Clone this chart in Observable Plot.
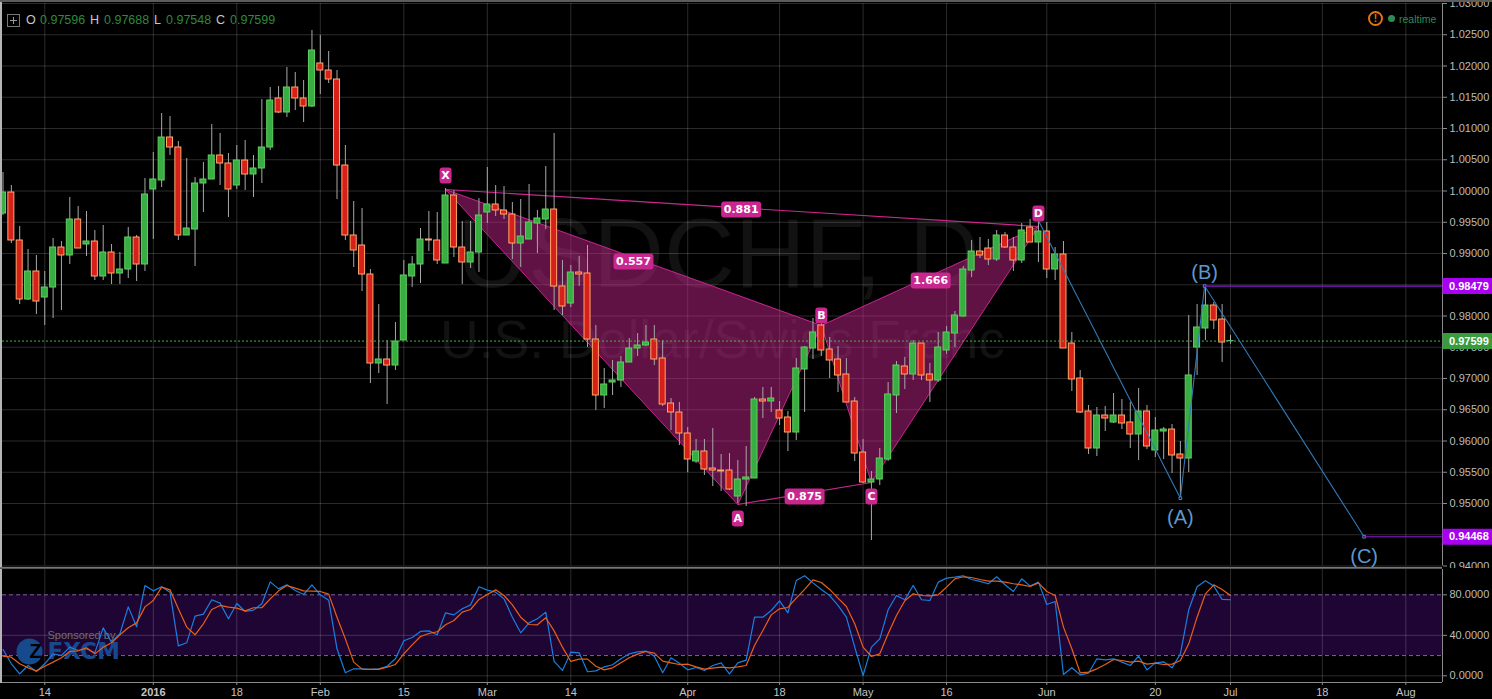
<!DOCTYPE html>
<html><head><meta charset="utf-8">
<script src="https://cdn.jsdelivr.net/npm/d3@7"></script>
<script src="https://cdn.jsdelivr.net/npm/@observablehq/plot@0.6"></script>
<style>
html,body{margin:0;padding:0;background:#000;overflow:hidden}
#wrap{position:relative;width:1492px;height:699px;background:#000}
#wrap svg.plot{display:block}
#wrap>div.plotbox svg{display:block}
.hdr{position:absolute;top:12.5px;font:12.5px/15px "Liberation Sans",Arial,sans-serif;white-space:nowrap}
.k{color:#c8c8c8}.v{color:#2c8a3c}
#edgeL{position:absolute;left:0;top:0;width:1.5px;height:683px;background:#b5b5b5}
#edgeT{position:absolute;left:0;top:0;width:1492px;height:1.5px;background:#5c5c5c}
#edgeS{position:absolute;left:0;top:567px;width:1442px;height:2px;border-top:1px solid #777;border-bottom:1px solid #555;box-sizing:border-box}
#warn{position:absolute;left:1368px;top:11px;width:11px;height:11px;border:2px solid #e8730c;border-radius:50%;color:#e8730c;font:bold 10px/11px "Liberation Sans";text-align:center}
#live{position:absolute;left:1387.5px;top:15px;width:7px;height:7px;border-radius:50%;background:#2e8b57}
#rt{position:absolute;left:1399px;top:11.5px;color:#2e8b57;font:10.5px/14px "Liberation Sans"}
</style></head><body>
<div id="wrap"></div>
<script>
// Daily USD/CHF candles, Dec 2015 - Jul 2016
const opens=[.9964,.99976,.99208,.98264,.98712,.98296,.98456,.99096,.98968,.99544,.99144,.99192,.98632,.99016,.9868,.98744,.99256,.98824,1.00024,1.00168,1.00856,1.00696,.99288,.99384,1.0012,1.00184,1.00568,1.0044,1.00088,1.00488,1.00264,1.0036,1.00696,1.0148,1.01256,1.01656,1.0148,1.01352,1.0204,1.01928,1.01784,1.00408,.99288,.99128,.98664,.9724,.97304,.97208,.97608,.98632,.98824,.99224,.99208,.9884,.99928,.99096,.98856,.99016,.99656,.99784,.99688,.99624,.9916,.99224,.9948,.99544,.99704,.98472,.982,.98696,.9868,.97624,.96728,.96936,.96968,.97256,.9748,.97528,.97624,.9732,.966,.96456,.9612,.95672,.95832,.9556,.95528,.95528,.95112,.95384,.954,.96664,.96632,.96488,.96376,.96136,.97144,.9748,.97848,.97464,.97304,.97064,.96632,.95816,.95336,.95384,.95704,.96728,.97192,.97064,.9756,.97064,.96968,.97448,.9772,.97992,.98728,.99032,.9908,.98904,.99288,.99096,.98888,.99416,.99176,.99352,.98744,.98984,.9756,.97,.96472,.9588,.96408,.96296,.96408,.96296,.96104,.96472,.95848,.96152,.96184,.95784,.9572,.97496,.978,.98168,.97944,.97596];
const closes=[.99976,.99208,.98264,.98712,.98232,.98456,.99096,.98968,.99544,.9908,.99192,.98632,.99016,.9868,.98744,.99256,.98824,.99944,1.00184,1.00856,1.00696,.99288,.994,1.0012,1.00184,1.00568,1.0044,1.00024,1.00488,1.00264,1.0036,1.00696,1.01448,1.01256,1.01656,1.0148,1.01352,1.02248,1.01928,1.01784,1.00408,.99288,.99048,.98664,.9724,.97304,.97208,.97592,.98648,.98824,.99224,.99208,.98888,.99928,.99096,.98856,.99016,.99608,.99784,.99688,.99624,.9916,.99272,.99496,.9956,.99704,.98472,.98152,.98696,.98664,.97624,.96728,.96904,.96968,.97256,.9748,.97528,.97576,.97304,.96584,.96456,.9612,.95704,.95832,.95544,.95528,.95512,.95224,.95384,.95416,.96664,.96632,.9668,.9636,.96136,.9716,.97496,.97736,.97448,.97288,.97048,.96616,.958,.95336,.95384,.9572,.96744,.97208,.97064,.9756,.97048,.96968,.97496,.97736,.98008,.98744,.99032,.98968,.98904,.99288,.99096,.98888,.99368,.99176,.99352,.98744,.98984,.9748,.96984,.96456,.9588,.96408,.9636,.96408,.9628,.96104,.96472,.95912,.96168,.96184,.95768,.9572,.97048,.97816,.98168,.97928,.97576,.97599];
const highs=[1.00296,1.00088,.99432,.99064,.98968,.98712,.9924,.99192,.99896,.99752,.99672,.99368,.99448,.99144,.99016,.99416,.99288,1.002,1.00616,1.0124,1.01192,1.00792,1.0052,1.00216,1.00456,1.01064,1.0092,1.006,1.00728,1.00808,1.00568,1.01464,1.01656,1.01672,1.01976,1.01896,1.01768,1.02568,1.02488,1.02232,1.01928,1.00728,.99832,.9972,.98744,.98184,.97608,.97896,.98888,.98952,.994,.99672,.99656,1.0004,1.00008,.99512,.99512,.9988,1.00376,1.00088,1.00072,.99816,.99864,1.00104,.99688,1.00392,1.0092,.98888,.98808,.98952,.99128,.97848,.9716,.97288,.97352,.9764,.9772,.97848,.97848,.97608,.9668,.96616,.96216,.96024,.96024,.962,.95784,.958,.95688,.95912,.96696,.96856,.96856,.96632,.96472,.9732,.97512,.9796,.9788,.97656,.97512,.9732,.96696,.96024,.95512,.9588,.96936,.97272,.97336,.97608,.9756,.9724,.97736,.97832,.98072,.98792,.99208,.99256,.99224,.99368,.99336,.99256,.9948,.99544,.99544,.99496,.99096,.99192,.97736,.97128,.96568,.96536,.96552,.9676,.96664,.96616,.9684,.96568,.96376,.96216,.96264,.95992,.98008,.98184,.9844,.98216,.98184,.97688];
const lows=[.99608,.9916,.98184,.98248,.98024,.97848,.9796,.98088,.98824,.9908,.98952,.98568,.98568,.98504,.98504,.986,.98552,.98712,.99224,1.00056,1.00568,.99208,.99288,.98792,.99656,1.00184,1.00088,.99576,1.00024,1.00008,.99896,1.0012,1.00648,1.0124,1.01176,1.01288,1.01096,1.01336,1.01544,1.0172,.99864,.99208,.98776,.98392,.9692,.9708,.96584,.97128,.97608,.98456,.9852,.99032,.98824,.9884,.98936,.98504,.9876,.98696,.9948,.99592,.99544,.98904,.98776,.99224,.99,.99384,.98088,.98008,.98136,.98472,.97496,.96488,.9652,.96728,.96856,.97256,.97352,.97512,.97208,.96552,.96168,.95928,.95496,.9564,.95448,.95272,.95192,.95208,.95,.94952,.954,.9636,.96456,.96248,.95832,.96008,.96456,.97304,.97352,.97,.96776,.96616,.95672,.9532,.94408,.95288,.95672,.9644,.96824,.96968,.96968,.96616,.96936,.97384,.97496,.97976,.98616,.9892,.98808,.98872,.9908,.98712,.9884,.99176,.98856,.986,.98568,.9748,.96792,.9644,.95784,.95752,.96152,.9628,.96184,.9588,.95688,.95864,.95736,.95704,.9548,.9508,.95496,.97048,.97608,.97784,.97256,.97548];
const stochK=[26,11.9,2,10.2,4.3,11.9,21.7,20.1,28.3,25,26.7,22.7,47.4,33.2,41.5,68.1,48.4,89.2,83.9,87.9,82.6,29.6,32.6,58.9,60.9,75.1,71.8,56.3,71.4,63.5,64.9,71.1,92.8,85.9,89.9,84.3,80.3,89.9,80,74.7,26.7,3,6.9,6.9,6.3,6.9,9.5,16.8,34.6,37.9,43.8,44.4,40.5,62.2,60.2,66.2,70.1,87.9,84.6,82.6,76,57.9,42.5,52.3,56.3,62.9,14.2,5.3,23.4,22.7,4,4.9,8.9,10.9,16.8,21.7,23.7,24.4,19.4,3,17.8,12.5,5.9,8.2,5.3,10.2,12.8,2,12.8,15.5,57.9,57.9,64.5,74.1,62.2,94.2,98.8,91.8,85.3,79.3,69.5,57.9,28.3,.3,28.3,36.5,65.2,79.3,75.1,89.2,75.1,74.4,92.5,96.5,97.4,98.8,95.1,93.2,90.9,97.8,89.9,83.3,95.8,88.6,92.5,70.4,73.4,1.3,7.9,1,2.6,16.8,15.8,16.8,13.5,10.2,19.4,5.9,12.8,13.8,7.9,21.7,65.2,87.9,93.8,88.6,75.4,75.1];
const stochD=[19.4,18.4,11.9,7.9,4.9,9.5,13.5,17.8,24,24.7,27.7,21.7,28.3,32.6,40.5,47.4,52.3,68.1,74.4,87.6,84.9,66.2,48.1,40.5,51.4,65.5,69.5,67.8,66.8,64.2,67.2,67.2,76,83.9,89.2,86.6,83.9,83.6,83.3,80.7,57.9,36.5,13.5,6.6,6.3,6.3,8.6,11.2,21.7,30.6,38.8,41.8,43.5,50.4,54.6,62.9,65.5,75.4,80.3,84.9,79.3,70.1,57.9,50.7,50.4,57.3,44.4,28.3,14.2,16.5,16.5,9.5,5.9,7.9,12.8,17.8,21.4,24,22.4,14.5,12.8,11.2,11.5,8.9,6.6,7.6,8.6,7.9,8.9,10.2,30,44.8,60.2,66.2,67.5,76.7,85.3,94.8,92.2,85.3,76.7,68.5,51.4,28.3,19.1,21.7,41.5,59.6,74.1,81,79.3,79,80,87.6,95.8,97.8,97.1,95.1,93.5,93.5,92.5,90.9,89.9,88.2,91.8,83.3,79.3,48.1,26.7,3,3.6,6.9,11.2,16.1,15.1,13.5,14.5,11.5,12.5,11.2,11.5,15.1,31.6,57.9,81,89.9,85.3,79.3];

// Axis ticks
const priceTicks=[.94,.945,.95,.955,.96,.965,.97,.975,.98,.985,.99,.995,1,1.005,1.01,1.015,1.02,1.025,1.03];
const stochTicks=[0,40,80];
const stochGrid=[0,40];
const stochBands=[20,80];
const dateTicks=[5,18,28,38,48,58,68,82,93,103,113,125,138,147,158,168];
const dateLabels=["14","2016","18","Feb","15","Mar","14","Apr","18","May","16","Jun","20","Jul","18","Aug"];

// Bat pattern points X A B C D and its ratios
const batNames=["X","A","B","C","D"];
const batIndex=[53,88,98,104,124];
const batPrice=[1.00024,.94984,.97848,.95336,.99432];
const ratioText=["0.881","0.557","1.666","0.875"];
const ratioIndex=[88.4,75.5,111.1,96];
const ratioPrice=[.99704,.98872,.98568,.95112];

// ABC projection
const waveNames=["(A)","(B)","(C)"];
const waveIndex=[124,141,143.9,163];
const wavePrice=[.99528,.95085,.98479,.94468];
const levelPrices=[.98479,.94468];
const lastPrice=.97599;

const FONT='"Liberation Sans",Arial,sans-serif';
const xDomain=[-.06,172.39];
const idx=d3.range(opens.length);
const bat=batNames.map((n,i)=>({n,x:batIndex[i],y:batPrice[i]}));
const [X,A,B,C,D]=bat;
const ratios=ratioText.map((t,i)=>({t,x:ratioIndex[i],y:ratioPrice[i]}));
const wave=waveIndex.map((x,i)=>({x,y:wavePrice[i]}));
const GRID={stroke:"#fff",strokeOpacity:.17,strokeWidth:1};
const PINK="#c9268f";

function box(w,h,r){return {draw(c){const a=w/2,b=h/2;
  c.moveTo(-a+r,-b);c.lineTo(a-r,-b);c.arcTo(a,-b,a,-b+r,r);c.lineTo(a,b-r);c.arcTo(a,b,a-r,b,r);
  c.lineTo(-a+r,b);c.arcTo(-a,b,-a,b-r,r);c.lineTo(-a,-b+r);c.arcTo(-a,-b,-a+r,-b,r);c.closePath();}};}

const tagOf=(y,t,fill)=>[
  Plot.dot([y],{y:d=>d,frameAnchor:"right",dx:25,symbol:box(50,16,0),fill,stroke:"none"}),
  Plot.text([y],{y:d=>d,frameAnchor:"right",dx:6.5,text:()=>t,textAnchor:"start",fill:"#fff",fontWeight:"bold",fontSize:11,fontFamily:FONT})
];
const tri=(pts)=>Plot.line(pts,{x:"x",y:"y",fill:PINK,fillOpacity:.47,stroke:"none",curve:"linear-closed"});

const main=Plot.plot({
  width:1492,height:568,marginLeft:2,marginRight:50,marginTop:3,marginBottom:2.5,
  style:{background:"transparent",fontFamily:FONT},
  x:{domain:xDomain,axis:null},y:{domain:[.94,1.03]},
  marks:[
    Plot.text(["USDCHF, D"],{frameAnchor:"top",dy:214,fontSize:98,fontFamily:FONT,fill:"#121212",lineAnchor:"top",dx:-4}),
    Plot.text(["U.S. Dollar/Swiss Franc"],{frameAnchor:"top",dy:316,fontSize:53.5,fontFamily:FONT,fill:"#121212",lineAnchor:"top"}),
    Plot.ruleX(dateTicks,{x:d=>d,...GRID}),
    Plot.ruleY(priceTicks,{y:d=>d,...GRID}),
    tri([X,A,B]),tri([B,C,D]),
    Plot.line([X,A,B,C,D,B],{x:"x",y:"y",stroke:PINK,strokeWidth:1}),
    Plot.line([X,B],{x:"x",y:"y",stroke:PINK,strokeWidth:1}),
    Plot.line([X,D],{x:"x",y:"y",stroke:PINK,strokeWidth:1.2}),
    Plot.line([A,C],{x:"x",y:"y",stroke:PINK,strokeWidth:1.2}),
    Plot.ruleX(idx,{x:i=>i,y1:i=>lows[i],y2:i=>highs[i],stroke:"#a8a8a8",strokeWidth:1}),
    Plot.rect(idx,{x1:i=>i-.36,x2:i=>i+.36,y1:i=>opens[i],y2:i=>closes[i],
      fill:i=>closes[i]>=opens[i]?"#38ad42":"#d8201a",
      stroke:i=>closes[i]>=opens[i]?"#5fd060":"#ffa86a",strokeWidth:1}),
    Plot.ruleY([lastPrice],{y:d=>d,stroke:"#4caf50",strokeDasharray:"2,2",strokeWidth:1}),
    Plot.line(wave,{x:"x",y:"y",stroke:"#3278b4",strokeWidth:1.1}),
    Plot.dot(wave.slice(1),{x:"x",y:"y",symbol:"square",r:1.5,stroke:"#3f8fd0",fill:"#000",strokeWidth:1}),
    Plot.ruleY(levelPrices,{y:d=>d,x1:(d,i)=>waveIndex[i+2],x2:xDomain[1],stroke:"#8a18d0",strokeWidth:1.2}),
    Plot.ruleX([xDomain[1]],{x:d=>d,stroke:"#8a8a8a"}),
    Plot.axisY(priceTicks,{anchor:"right",label:null,tickFormat:d3.format(".5f"),tickSize:4,tickPadding:3,stroke:"#8a8a8a",fill:"#bcbcbc",fontSize:11,fontFamily:FONT}),
    Plot.dot(ratios,{x:"x",y:"y",symbol:box(40,16,3),fill:PINK,stroke:"none"}),
    Plot.text(ratios,{x:"x",y:"y",text:"t",fill:"#fff",fontWeight:"bold",fontSize:11,fontFamily:"DejaVu Sans"}),
    ...[[X,-14],[A,14],[B,-10],[C,14],[D,-13]].flatMap(([p,dy])=>[
      Plot.dot([p],{x:"x",y:"y",dy,symbol:box(12,16,3),fill:PINK,stroke:"none"}),
      Plot.text([p],{x:"x",y:"y",dy,text:"n",fill:"#fff",fontWeight:"bold",fontSize:11,fontFamily:"DejaVu Sans"})
    ]),
    ...waveNames.map((t,i)=>Plot.text([wave[i+1]],{x:"x",y:"y",dy:[19,-13,20][i],text:()=>t,fill:"#5f96cc",fontSize:20,fontFamily:FONT})),
    ...tagOf(levelPrices[0],"0.98479","#a800f0"),
    ...tagOf(levelPrices[1],"0.94468","#a800f0"),
    ...tagOf(lastPrice,"0.97599","#3a9a3e")
  ]
});

const lower=Plot.plot({
  width:1492,height:131,marginLeft:2,marginRight:50,marginTop:1,marginBottom:17,
  style:{background:"transparent",fontFamily:FONT},
  x:{domain:xDomain,axis:null},y:{domain:[-6.6,105]},
  marks:[
    Plot.rect([stochBands],{y1:d=>d[0],y2:d=>d[1],fill:"#1f0533"}),
    Plot.ruleX(dateTicks,{x:d=>d,...GRID}),
    Plot.ruleY(stochGrid,{y:d=>d,...GRID}),
    Plot.ruleY(stochBands,{y:d=>d,stroke:"#7d6490",strokeDasharray:"4,3",strokeWidth:1}),
    Plot.text(["Sponsored by"],{frameAnchor:"top-left",dx:45,dy:66,lineAnchor:"middle",textAnchor:"start",fontSize:11,fill:"#6e6e6e",fontFamily:FONT}),
    Plot.dot([0],{frameAnchor:"top-left",dx:27,dy:82,r:13,fill:"#174a8c",stroke:"none"}),
    Plot.text(["Z"],{frameAnchor:"top-left",dx:27,dy:82,lineAnchor:"middle",fontSize:20,fontWeight:"bold",fill:"#000",fontFamily:FONT}),
    Plot.text(["FXCM"],{frameAnchor:"top-left",dx:45,dy:82,lineAnchor:"middle",textAnchor:"start",fontSize:23,fontWeight:"bold",fill:"#174a8c",fontFamily:"DejaVu Sans"}),
    Plot.line(idx,{x:i=>i,y:i=>stochK[i],stroke:"#1a7fe0",strokeWidth:1.2}),
    Plot.line(idx,{x:i=>i,y:i=>stochD[i],stroke:"#e8601a",strokeWidth:1.2}),
    Plot.ruleX([xDomain[1]],{x:d=>d,stroke:"#8a8a8a"}),
    Plot.ruleY([-6.6],{y:d=>d,stroke:"#8a8a8a"}),
    Plot.axisY(stochTicks,{anchor:"right",label:null,tickFormat:d3.format(".4f"),tickSize:4,tickPadding:3,stroke:"#8a8a8a",fill:"#bcbcbc",fontSize:11,fontFamily:FONT}),
    Plot.axisX(dateTicks.filter(d=>d!==18),{anchor:"bottom",label:null,tickSize:3,tickPadding:3,tickFormat:d=>dateLabels[dateTicks.indexOf(d)],stroke:"#8a8a8a",fill:"#c4c4c4",fontSize:11,fontFamily:FONT}),
    Plot.axisX([18],{anchor:"bottom",label:null,tickSize:3,tickPadding:3,tickFormat:()=>"2016",stroke:"#8a8a8a",fill:"#c4c4c4",fontSize:11,fontWeight:"bold",fontFamily:FONT})
  ]
});

const wrap=document.getElementById("wrap");
wrap.append(main,lower);
const hdr=[["O",26],["0.97596",40],["H",90],["0.97688",104],["L",154],["0.97548",166],["C",216],["0.97599",230]];
hdr.forEach(([t,x],i)=>{const s=document.createElement("div");s.className="hdr "+(i%2?"v":"k");s.style.left=x+"px";s.textContent=t;wrap.append(s);});
wrap.insertAdjacentHTML("beforeend",`
<svg style="position:absolute;left:7px;top:14px" width="13" height="13"><rect x=".5" y=".5" width="12" height="12" fill="none" stroke="#777"/><path d="M6.5 3V10M3 6.5H10" stroke="#999"/></svg>
<div id="edgeL"></div><div id="edgeT"></div><div id="edgeS"></div>
<div id="warn">!</div><div id="live"></div><div id="rt">realtime</div>`);
</script>
</body></html>
